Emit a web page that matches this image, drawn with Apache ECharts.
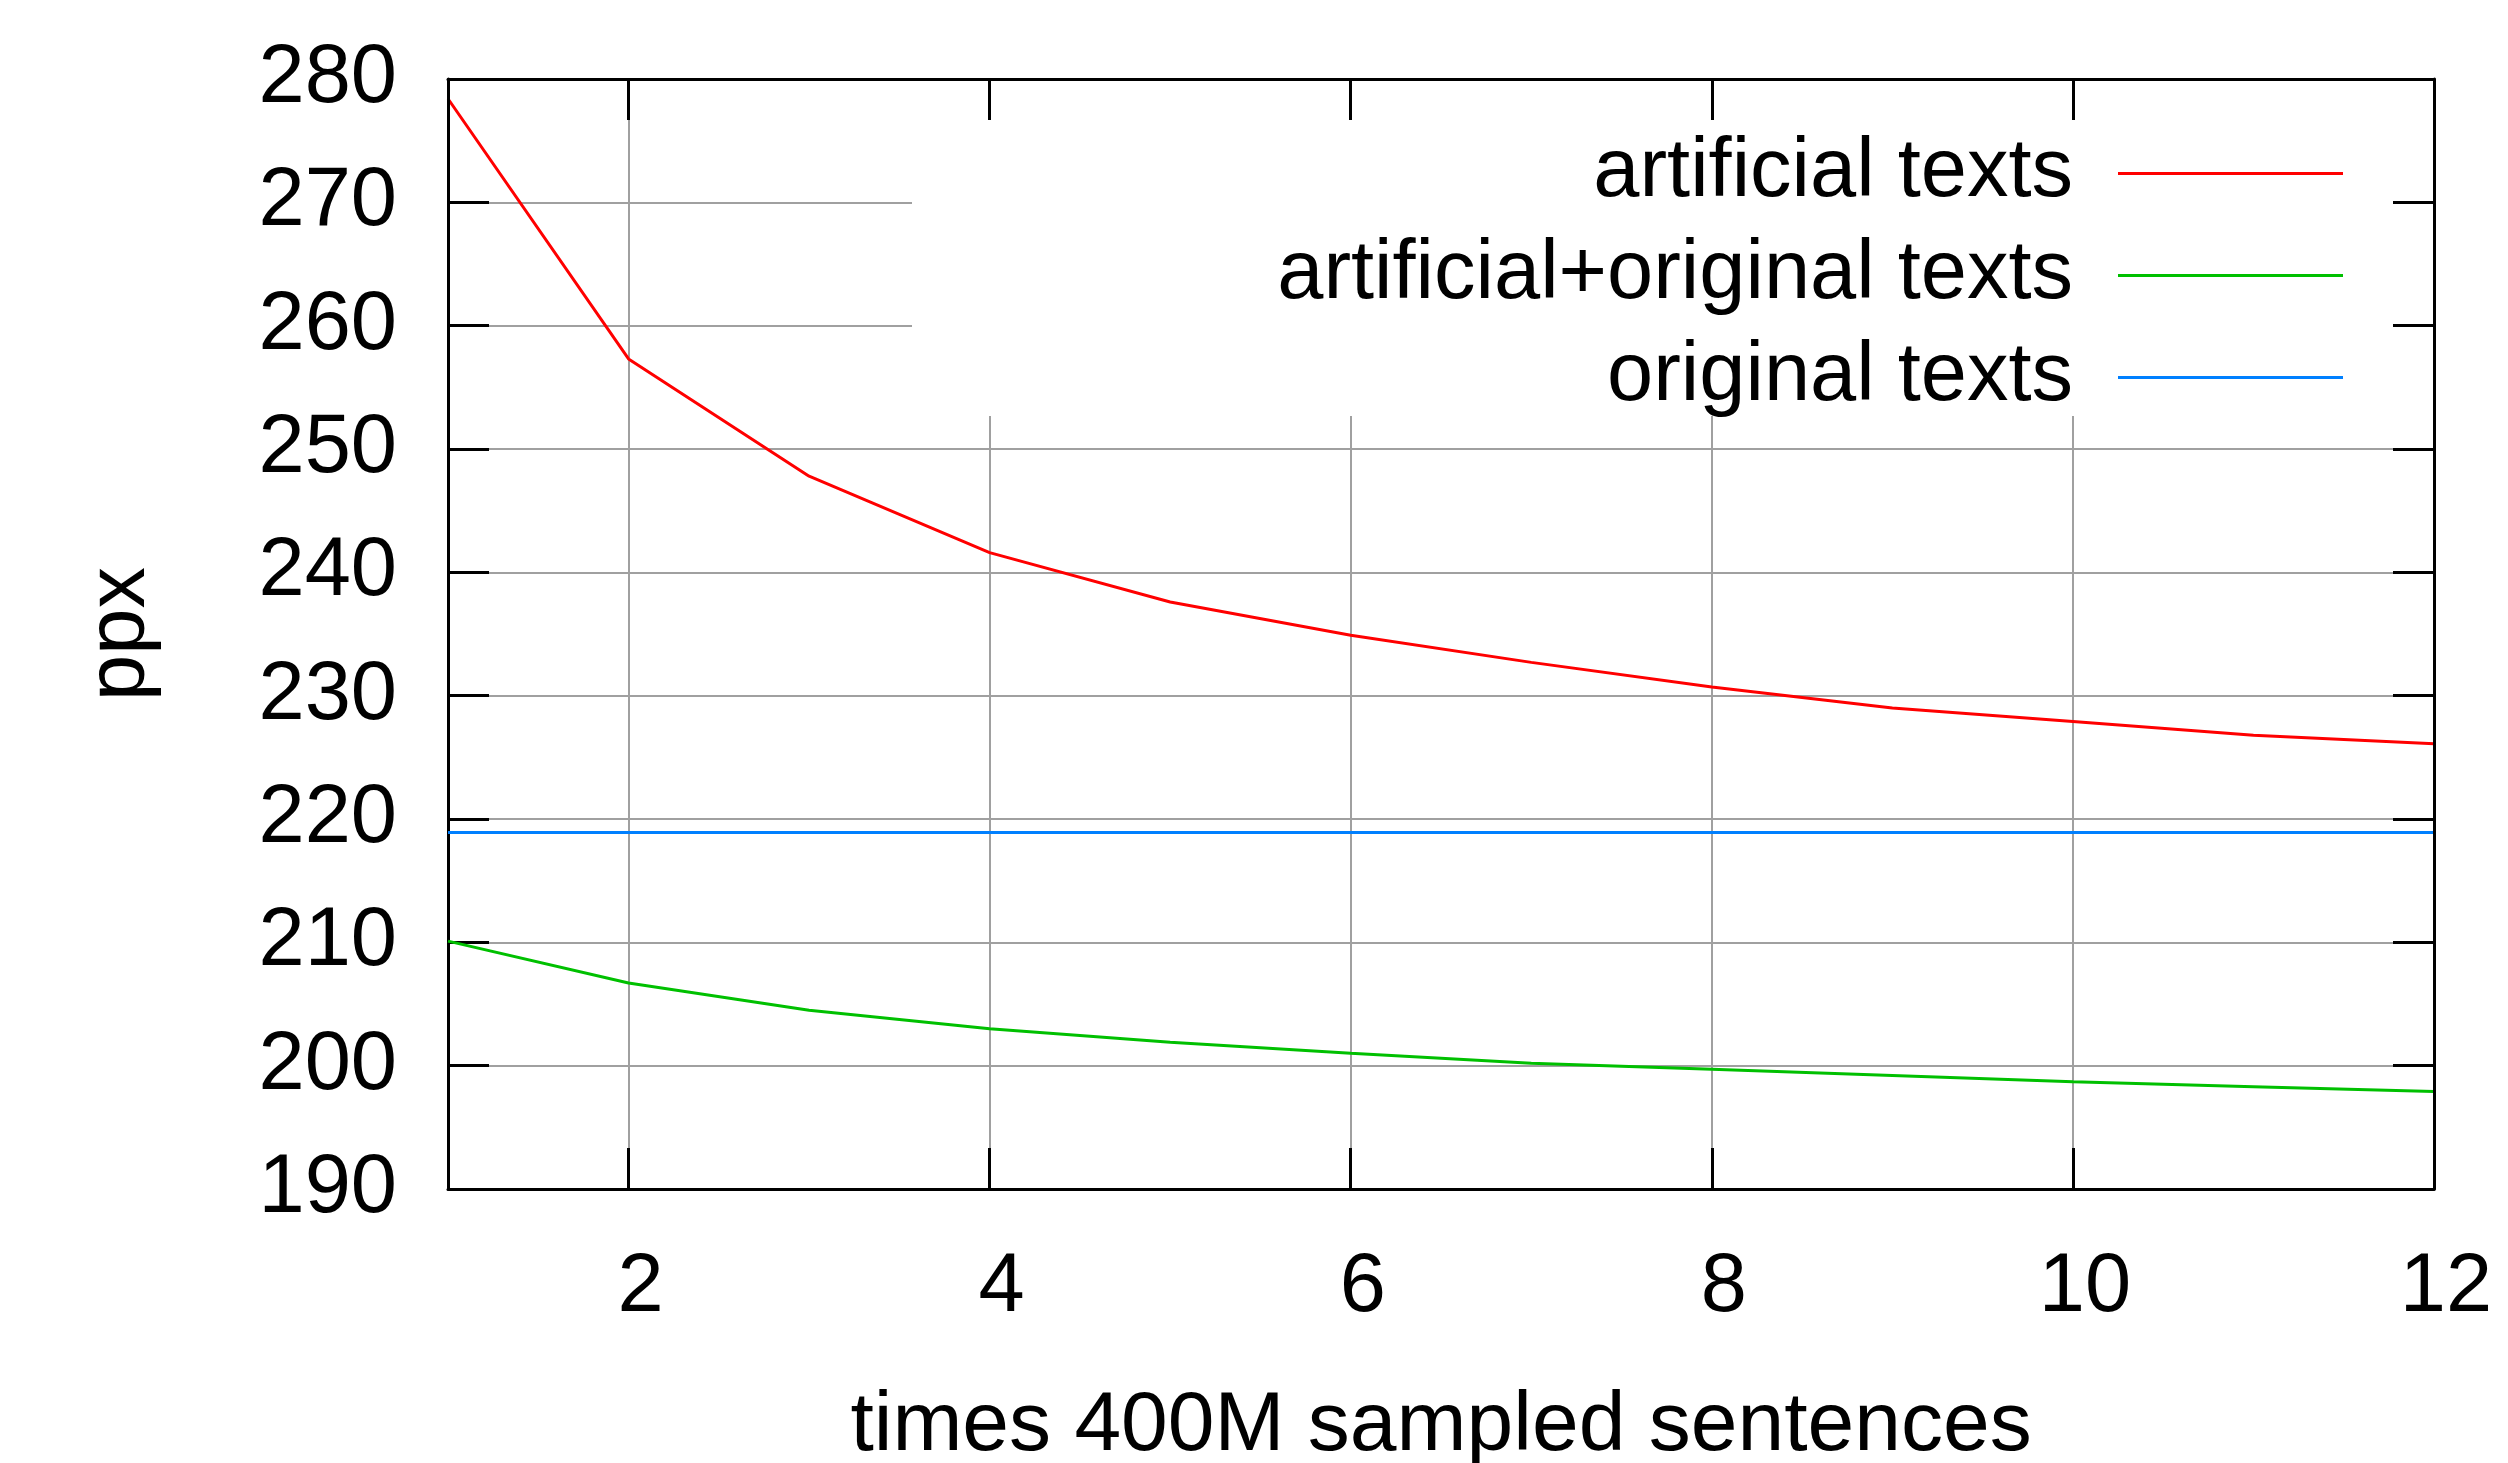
<!DOCTYPE html>
<html>
<head>
<meta charset="utf-8">
<script src="https://cdn.jsdelivr.net/npm/echarts@6/dist/echarts.min.js"></script>
<style>html,body{margin:0;padding:0;background:#fff}#c{width:2508px;height:1463px}</style>
</head>
<body>
<div id="c"></div>
<script>
const xValues = [1, 2, 3, 4, 5, 6, 7, 8, 9, 10, 11, 12];
const artificial = [278.4, 257.3, 247.8, 241.6, 237.6, 234.9, 232.7, 230.7, 229.0, 227.9, 226.8, 226.1];
const artificialOriginal = [210.1, 206.7, 204.5, 203.0, 201.9, 201.0, 200.2, 199.7, 199.2, 198.7, 198.3, 197.9];
const original = [218.9, 218.9, 218.9, 218.9, 218.9, 218.9, 218.9, 218.9, 218.9, 218.9, 218.9, 218.9];
const seriesNames = ['artificial texts', 'artificial+original texts', 'original texts'];
const xAxisName = 'times 400M sampled sentences';
const yAxisName = 'ppx';

const FONT = 'Liberation Sans';
const FS = 83;
const pair = arr => xValues.map((x, i) => [x, arr[i]]);

const chart = echarts.init(document.getElementById('c'));
const axisLineStyle = { color: '#000', width: 3 };
const tickStyle = { color: '#000', width: 3 };
const gridStyle = { color: '#a0a0a0', width: 2, type: 'solid' };

chart.setOption({
  animation: false,
  backgroundColor: '#fff',
  grid: { left: 448, right: 74, top: 79, bottom: 274, outerBoundsMode: 'none', containLabel: false },
  xAxis: [{
    type: 'value', min: 1, max: 12, splitNumber: 6,
    name: xAxisName, nameLocation: 'middle', nameGap: 196,
    nameTextStyle: { fontFamily: FONT, fontSize: 84, color: '#000' },
    axisLine: { show: true, lineStyle: axisLineStyle },
    axisTick: { show: true, inside: true, length: 41, lineStyle: tickStyle },
    axisLabel: { showMinLabel: false, fontFamily: FONT, fontSize: FS, color: '#000', margin: 58, padding: [0, 0, 0, 24] },
    splitLine: { show: true, lineStyle: gridStyle }
  }, {
    type: 'value', min: 1, max: 12, splitNumber: 6, position: 'top', z: 5,
    axisLine: { show: true, lineStyle: axisLineStyle },
    axisTick: { show: true, inside: true, length: 41, lineStyle: tickStyle },
    axisLabel: { show: false },
    splitLine: { show: false }
  }],
  yAxis: [{
    type: 'value', min: 190, max: 280, interval: 10,
    name: yAxisName, nameLocation: 'middle', nameGap: 285, nameRotate: 90,
    nameTextStyle: { fontFamily: FONT, fontSize: FS, color: '#000' },
    axisLine: { show: true, lineStyle: axisLineStyle },
    axisTick: { show: true, inside: true, length: 41, lineStyle: tickStyle },
    axisLabel: { fontFamily: FONT, fontSize: FS, color: '#000', margin: 51 },
    splitLine: { show: true, lineStyle: gridStyle }
  }, {
    type: 'value', min: 190, max: 280, interval: 10, position: 'right', z: 5,
    axisLine: { show: true, lineStyle: axisLineStyle },
    axisTick: { show: true, inside: true, length: 41, lineStyle: tickStyle },
    axisLabel: { show: false },
    splitLine: { show: false }
  }],
  graphic: [{
    type: 'rect', z: 1, silent: true,
    shape: { x: 912, y: 81, width: 1521, height: 335 },
    style: { fill: '#fff' }
  }],
  legend: {
    orient: 'vertical', right: 160, top: 127, align: 'right',
    icon: 'rect', itemWidth: 225, itemHeight: 3, itemGap: 19,
    textStyle: { fontFamily: FONT, fontSize: FS, color: '#000', lineHeight: 80, padding: [0, 40, 0, 0] },
    data: seriesNames
  },
  series: [{
    name: seriesNames[0], type: 'line', data: pair(artificial), symbol: 'none',
    lineStyle: { color: '#ff0000', width: 3 }, itemStyle: { color: '#ff0000' }
  }, {
    name: seriesNames[1], type: 'line', data: pair(artificialOriginal), symbol: 'none',
    lineStyle: { color: '#00c000', width: 3 }, itemStyle: { color: '#00c000' }
  }, {
    name: seriesNames[2], type: 'line', data: pair(original), symbol: 'none',
    lineStyle: { color: '#0080ff', width: 3 }, itemStyle: { color: '#0080ff' }
  }]
});
</script>
</body>
</html>
